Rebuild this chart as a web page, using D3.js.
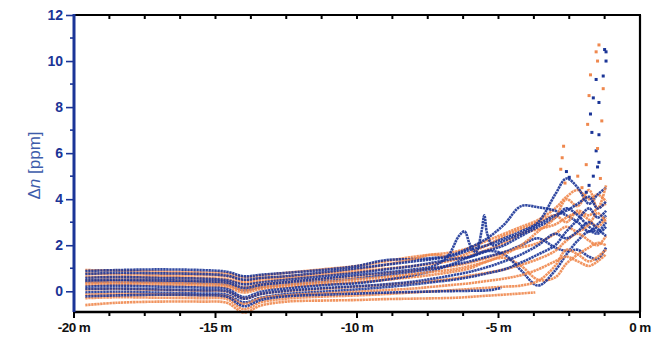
<!DOCTYPE html>
<html>
<head>
<meta charset="utf-8">
<script src="https://cdn.jsdelivr.net/npm/d3@7"></script>
<style>
  body { margin: 0; background: #fff; }
  svg { display: block; }
  text { font-family: "Liberation Sans", Arial, sans-serif; }
</style>
</head>
<body>
<script>
var width = 662, height = 337;
var margin = {left: 74, right: 20, top: 15, bottom: 25};

var blue = "#1b3597", orange = "#ef884e";

// shared x positions (m) of the sampled values
var xs = [-19.6, -18.5, -17, -15.5, -14.6, -14.0, -13.4, -12.5, -11, -10, -9, -8, -7.3, -6.6, -6, -5.4, -4.8, -4.2, -3.6, -3.0, -2.6, -2.2, -1.8, -1.5, -1.2];

// blue series, one value per xs entry
var blueSeries = [
  [0.88, 0.92, 0.95, 0.92, 0.85, 0.65, 0.72, 0.8, 0.95, 1.1, 1.35, 1.4, 1.45, 1.6, 1.9, 2.3, 2.9, 3.7, 3.65, 3.5, 3.3, 3.0, 2.6, 2.9, 3.3],
  [0.75, 0.8, 0.78, 0.75, 0.68, 0.5, 0.58, 0.65, 0.85, 1.0, 1.15, 1.3, 1.4, 1.55, 1.8, 2.0, 2.3, 2.6, 3.0, 4.2, 4.9, 4.5, 3.8, 4.2, 4.5],
  [0.58, 0.62, 0.58, 0.55, 0.48, 0.3, 0.38, 0.5, 0.68, 0.8, 0.95, 1.1, 1.25, 1.4, 1.5, 1.75, 2.0, 2.4, 2.8, 3.2, 3.6, 3.3, 2.8, 2.6, 3.0],
  [0.4, 0.42, 0.4, 0.36, 0.3, 0.05, 0.18, 0.3, 0.45, 0.55, 0.7, 0.85, 1.0, 1.15, 1.3, 1.5, 1.7, 2.0, 2.3, 1.9, 1.75, 1.8, 1.5, 1.4, 1.9],
  [0.2, 0.24, 0.2, 0.16, 0.1, -0.25, -0.02, 0.12, 0.28, 0.35, 0.5, 0.7, 0.9, 1.2, 1.5, 1.75, 1.6, 0.9, 0.25, 0.9, 1.6, 2.2, 2.6, 2.5, 2.8],
  [-0.05, -0.02, -0.06, -0.1, -0.15, -0.48, -0.28, -0.12, 0.0, 0.08, 0.18, 0.3, 0.4, 0.5, 0.62, 0.78, 0.95, 1.25, 1.6, 2.0, 2.6, 3.1, 3.6, 3.2, 3.5],
  [0.1, 0.12, 0.08, 0.04, 0.0, -0.32, -0.12, 0.02, 0.15, 0.22, 0.3, 0.42, 0.55, 0.7, 0.85, 1.05, 1.3, 1.6, 2.0, 2.5, 2.3, 2.6, 3.0, 2.7, 2.4]
];

// orange series, one value per xs entry
var orangeSeries = [
  [0.92, 0.9, 0.86, 0.82, 0.78, 0.6, 0.68, 0.8, 0.98, 1.1, 1.3, 1.5, 1.6, 1.7, 1.9, 2.2, 2.5, 2.8, 3.1, 3.6, 4.1, 4.4, 4.0, 4.2, 3.9],
  [0.78, 0.74, 0.72, 0.7, 0.65, 0.45, 0.55, 0.65, 0.82, 0.95, 1.15, 1.4, 1.6, 1.45, 1.7, 2.0, 2.4, 2.7, 3.0, 3.3, 3.0, 3.5, 3.3, 3.6, 3.8],
  [0.64, 0.62, 0.62, 0.58, 0.52, 0.35, 0.45, 0.55, 0.72, 0.85, 0.98, 1.1, 1.2, 1.35, 1.55, 1.8, 2.1, 2.5, 2.7, 2.9, 3.2, 3.4, 3.1, 2.8, 3.2],
  [0.48, 0.5, 0.48, 0.44, 0.38, 0.18, 0.3, 0.4, 0.55, 0.65, 0.78, 0.9, 1.0, 1.1, 1.25, 1.45, 1.7, 1.9, 2.1, 2.5, 2.8, 2.6, 2.9, 3.4, 3.0],
  [0.28, 0.3, 0.28, 0.24, 0.18, -0.05, 0.1, 0.2, 0.32, 0.4, 0.5, 0.62, 0.72, 0.85, 1.0, 1.3, 1.45, 1.1, 0.5, 0.6, 1.2, 1.6, 1.9, 2.1, 2.0],
  [0.08, 0.1, 0.06, 0.02, -0.02, -0.32, -0.12, 0.0, 0.12, 0.2, 0.28, 0.38, 0.45, 0.55, 0.68, 0.8, 0.95, 1.15, 1.4, 1.75, 2.2, 2.5, 2.2, 2.0, 2.4],
  [-0.3, -0.26, -0.28, -0.3, -0.34, -0.78, -0.48, -0.32, -0.22, -0.18, -0.12, -0.05, 0.0, 0.05, 0.1, 0.15, 0.2, 0.25, 0.45, 1.1, 1.8, 1.6, 1.3, 1.5, 1.8],
  [0.36, 0.38, 0.36, 0.32, 0.26, 0.05, 0.18, 0.28, 0.42, 0.52, 0.62, 0.75, 0.85, 0.95, 1.1, 1.3, 1.6, 2.0, 2.6, 3.2, 4.0, 3.7, 4.4, 3.6, 4.6],
  [-0.15, -0.12, -0.14, -0.18, -0.22, -0.55, -0.3, -0.18, -0.08, -0.02, 0.05, 0.12, 0.2, 0.28, 0.35, 0.45, 0.55, 0.7, 0.95, 1.3, 1.5, 1.3, 1.1, 1.3, 1.6]
];

// blue series that stops near -5 m
var blueShortX = [-19.6, -18.5, -17, -15.5, -14.6, -14.0, -13.4, -12.5, -11, -10, -9, -8, -7, -6, -5.3, -4.9];
var blueShort = [-0.22, -0.18, -0.15, -0.17, -0.24, -0.65, -0.38, -0.22, -0.14, -0.1, -0.06, -0.03, 0.0, 0.02, 0.05, 0.15];
// blue series with the two narrow peaks near -6.3 m and -5.5 m
var bluePeakX = [-19.6, -18.5, -17, -15.5, -14.6, -14.0, -13.4, -12.5, -11, -10, -9, -8, -7.3, -6.8, -6.4, -6.2, -6.0, -5.8, -5.6, -5.5, -5.4, -5.2, -4.8, -4.2, -3.6, -3.0, -2.6, -2.2, -1.8, -1.5, -1.2];
var bluePeak = [0.48, 0.5, 0.48, 0.45, 0.4, 0.15, 0.28, 0.4, 0.58, 0.7, 0.82, 0.95, 1.1, 1.5, 2.4, 2.6, 2.0, 1.7, 2.6, 3.3, 2.5, 2.0, 2.2, 2.5, 2.9, 3.3, 3.5, 3.8, 4.1, 3.6, 3.9];
// lowest orange series, ends near -3.7 m
var orangeShortX = [-19.6, -18.5, -17, -15.5, -14.6, -14.0, -13.4, -12.5, -11, -10, -9, -8, -6.5, -5.5, -4.5, -3.7];
var orangeShort = [-0.6, -0.5, -0.45, -0.45, -0.5, -0.92, -0.62, -0.45, -0.4, -0.38, -0.34, -0.32, -0.28, -0.2, -0.12, -0.05];

// steep rise at the right end, drawn as single dots
var blueSpikeX = [-1.45, -1.5, -1.55, -1.45, -1.7, -1.75, -1.45, -1.65, -1.3, -1.55, -1.2, -1.25, -1.2, -1.65, -1.8, -1.9, -2.6, -2.5];
var blueSpikeY = [5.6, 5.4, 6.1, 6.8, 6.9, 7.7, 8.2, 8.4, 9.35, 9.2, 10.0, 10.5, 10.4, 5.0, 4.6, 4.3, 5.2, 4.95];
var orangeSpikeX = [-2.75, -2.7, -2.2, -1.9, -1.85, -1.8, -1.75, -1.5, -1.45, -1.55, -1.35, -1.3, -1.5, -1.4, -2.05, -2.8, -2.65];
var orangeSpikeY = [5.8, 6.3, 5.0, 5.5, 7.25, 8.5, 9.4, 10.0, 10.7, 10.4, 7.4, 8.8, 6.2, 4.9, 4.5, 5.3, 4.7];

var xDomain = [-20, 0], yDomain = [-0.9, 12];
var xTickLabels = ["-20 m", "-15 m", "-10 m", "-5 m", "0 m"];

var svg = d3.select("body").append("svg")
    .attr("width", width)
    .attr("height", height);

var x = d3.scaleLinear().domain(xDomain).range([margin.left, width - margin.right - 2]);
var y = d3.scaleLinear().domain(yDomain).range([height - margin.bottom, margin.top]);

var line = d3.line()
    .x(function(d) { return x(d[0]); })
    .y(function(d) { return y(d[1]); })
    .curve(d3.curveCatmullRom.alpha(0.5));

function pairs(xv, yv) {
    return xv.map(function(v, i) { return [v, yv[i]]; });
}

var all = [];
orangeSeries.forEach(function(s, i) {
    all.push({c: orange, pts: pairs(xs, s)});
    if (i < blueSeries.length) all.push({c: blue, pts: pairs(xs, blueSeries[i])});
});
all.push({c: orange, pts: pairs(orangeShortX, orangeShort)});
all.push({c: blue, pts: pairs(blueShortX, blueShort)});
all.push({c: blue, pts: pairs(bluePeakX, bluePeak)});

var plot = svg.append("g");
plot.selectAll("path.series")
    .data(all)
    .enter().append("path")
    .attr("class", "series")
    .attr("d", function(d) { return line(d.pts); })
    .attr("fill", "none")
    .attr("stroke", function(d) { return d.c; })
    .attr("stroke-width", 2.6)
    .attr("stroke-dasharray", "2.4,0.6")
    .attr("opacity", 0.9);

plot.selectAll("rect.bs")
    .data(pairs(blueSpikeX, blueSpikeY))
    .enter().append("rect")
    .attr("class", "bs")
    .attr("x", function(d) { return x(d[0]) - 1.5; })
    .attr("y", function(d) { return y(d[1]) - 1.5; })
    .attr("width", 3).attr("height", 3)
    .attr("fill", blue);
plot.selectAll("rect.os")
    .data(pairs(orangeSpikeX, orangeSpikeY))
    .enter().append("rect")
    .attr("class", "os")
    .attr("x", function(d) { return x(d[0]) - 1.5; })
    .attr("y", function(d) { return y(d[1]) - 1.5; })
    .attr("width", 3).attr("height", 3)
    .attr("fill", orange);

// frame: top and right
var x0 = x.range()[0], x1 = x.range()[1], y0 = y.range()[0], y1 = y.range()[1];
svg.append("line").attr("x1", x0).attr("x2", x1 + 1).attr("y1", y1).attr("y2", y1)
    .attr("stroke", "#000").attr("stroke-width", 2.2);
svg.append("line").attr("x1", x1).attr("x2", x1).attr("y1", y1).attr("y2", y0)
    .attr("stroke", "#000").attr("stroke-width", 2.2);

// top ticks pointing inward
var minorX = d3.range(-20, 0.01, 1.25);
svg.selectAll("line.tt").data(minorX).enter().append("line")
    .attr("x1", function(d) { return x(d); }).attr("x2", function(d) { return x(d); })
    .attr("y1", y1).attr("y2", y1 + 4)
    .attr("stroke", "#000").attr("stroke-width", 2);

// bottom axis
var xAxis = svg.append("g").attr("transform", "translate(0," + y0 + ")");
xAxis.append("line").attr("x1", x0 - 1).attr("x2", x1 + 1).attr("stroke", "#000").attr("stroke-width", 2.5);
xAxis.selectAll("line.t").data(minorX).enter().append("line")
    .attr("x1", function(d) { return x(d); }).attr("x2", function(d) { return x(d); })
    .attr("y1", 0).attr("y2", function(d) { return d % 5 === 0 ? 6 : 4; })
    .attr("stroke", "#000").attr("stroke-width", 2);
xAxis.selectAll("text").data(xTickLabels).enter().append("text")
    .attr("x", function(d, i) { return x(-20 + 5 * i); })
    .attr("y", 20)
    .attr("text-anchor", "middle")
    .attr("font-size", 13.5)
    .attr("font-weight", "bold")
    .attr("letter-spacing", -0.6)
    .attr("fill", "#111")
    .text(function(d) { return d; });

// left axis
var yAxis = d3.axisLeft(y).tickValues(d3.range(0, 12.1, 2)).tickSize(8).tickPadding(3);
var gy = svg.append("g").attr("transform", "translate(" + x0 + ",0)").call(yAxis);
gy.select(".domain").remove();
gy.selectAll(".tick line").attr("stroke", blue).attr("stroke-width", 1.6);
gy.selectAll(".tick text")
    .attr("fill", blue).attr("font-size", 14).attr("font-weight", "bold")
    .attr("font-family", "Liberation Sans, Arial, sans-serif");
gy.selectAll("line.minor").data(d3.range(1, 12, 2)).enter().append("line")
    .attr("x1", -4).attr("x2", 0)
    .attr("y1", function(d) { return y(d); }).attr("y2", function(d) { return y(d); })
    .attr("stroke", blue).attr("stroke-width", 1.6);
gy.append("line").attr("y1", y1 - 1).attr("y2", y0).attr("stroke", blue).attr("stroke-width", 3);

// y title
var title = svg.append("text")
    .attr("transform", "translate(40," + ((y0 + y1) / 2 + 2) + ") rotate(-90)")
    .attr("text-anchor", "middle")
    .attr("font-size", 17)
    .attr("fill", "#3d5cab");
title.append("tspan").text("\u0394");
title.append("tspan").attr("font-style", "italic").text("n");
title.append("tspan").text(" [ppm]");
</script>
</body>
</html>
